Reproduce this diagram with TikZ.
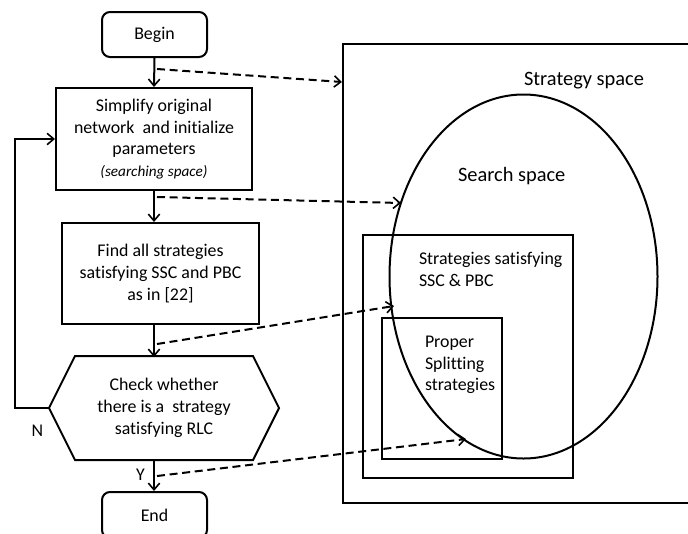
\documentclass[tikz,border=0pt]{standalone}
\usepackage{fontspec}
\setmainfont{Carlito}[Ligatures=NoCommon]
\usetikzlibrary{arrows.meta,calc,shapes.geometric}
\begin{document}
\begin{tikzpicture}[x=0.75pt,y=-0.75pt,
  font=\fontsize{13.4}{16.3}\selectfont,
  line width=1.5pt,
  flowbox/.style={draw,rectangle,align=center,inner sep=0pt},
  term/.style={flowbox,rounded corners=6pt},
  flowarrow/.style={-{Straight Barb[length=5pt,width=8.5pt,line width=1.2pt]}},
  dasharrow/.style={dash pattern=on 6pt off 3.5pt,-{Straight Barb[length=5pt,width=8.5pt,line width=1.2pt]}},
  lbl/.style={align=left,inner sep=0pt,anchor=west},
  biglbl/.style={lbl,font=\fontsize{15.3}{18}\selectfont}]
\useasboundingbox (0,0) rectangle (688,533);
\clip (0,0) rectangle (688,533);
% flowchart
\node[term,minimum width=78.75pt,minimum height=33.75pt] (begin) at (154.5,34.5) {Begin};
\node[flowbox,minimum width=147pt,minimum height=76.5pt] (simp) at (154,139)
  {Simplify original\\network\ \ and initialize\\parameters\\{\fontsize{11.4}{16.3}\selectfont\itshape (searching space)}};
\node[flowbox,minimum width=147.75pt,minimum height=75.75pt] (find) at (160.5,273.5)
  {Find all strategies\\satisfying SSC and PBC\\as in [22]};
\node[align=center,inner sep=0pt,minimum width=171pt,minimum height=76.5pt] (chk) at (164,408)
  {Check whether\\there is a\ \ strategy\\satisfying RLC};
\draw ($(chk.north west)+(26,0)$) -- ($(chk.north east)+(-26,0)$) -- (chk.east)
  -- ($(chk.south east)+(-26,0)$) -- ($(chk.south west)+(26,0)$) -- (chk.west) -- cycle;
\node[term,minimum width=78.75pt,minimum height=34.5pt] (end) at (154.5,515) {End};
\coordinate (chktop) at (154,357);
\coordinate (chkbot) at (154,459);
\draw[flowarrow] (begin.south) -- (simp.north);
\draw[flowarrow] (simp.south) -- (simp.south |- find.north);
\draw[flowarrow] (simp.south |- find.south) -- (chktop);
\draw[flowarrow] (chkbot) -- (chkbot |- end.north);
\draw[flowarrow] (chk.west) -- ++(-34,0) |- (simp.west);
\node[inner sep=0pt] (nlab) at (37.5,431) {N};
\node[inner sep=0pt] (ylab) at (140.5,474.5) {Y};
% right diagram
\node[draw,rectangle,minimum width=267.75pt,minimum height=344.25pt,inner sep=0pt] (outer) at (521.5,273.5) {};
\node[draw,ellipse,minimum width=201pt,minimum height=273pt,inner sep=0pt] (ell) at (523.5,276.5) {};
\node[draw,rectangle,minimum width=157.5pt,minimum height=182.25pt,inner sep=0pt] (mid) at (468,356.5) {};
\node[draw,rectangle,minimum width=90pt,minimum height=105.75pt,inner sep=0pt] (inner) at (442,388.5) {};
\node[biglbl] (t1) at (523,81) {Strategy space};
\node[biglbl] (t2) at (457,176) {Search space};
\node[lbl,anchor=north west] (t3) at (418,251) {Strategies satisfying\\SSC \& PBC};
\node[lbl,anchor=north west] (t4) at (424,335) {Proper\\Splitting\\strategies};
% dashed arrows
\coordinate (s1) at (157,69);
\coordinate (e1) at (342,82);
\coordinate (s2) at (157,197);
\coordinate (e2) at (401,203);
\coordinate (s3) at (157,344);
\coordinate (e3) at (394,306);
\coordinate (s4) at (157,476);
\coordinate (e4) at (466,439);
\draw[dasharrow] (s1) -- (e1);
\draw[dasharrow] (s2) -- (e2);
\draw[dasharrow] (s3) -- (e3);
\draw[dasharrow] (s4) -- (e4);
\end{tikzpicture}
\end{document}
